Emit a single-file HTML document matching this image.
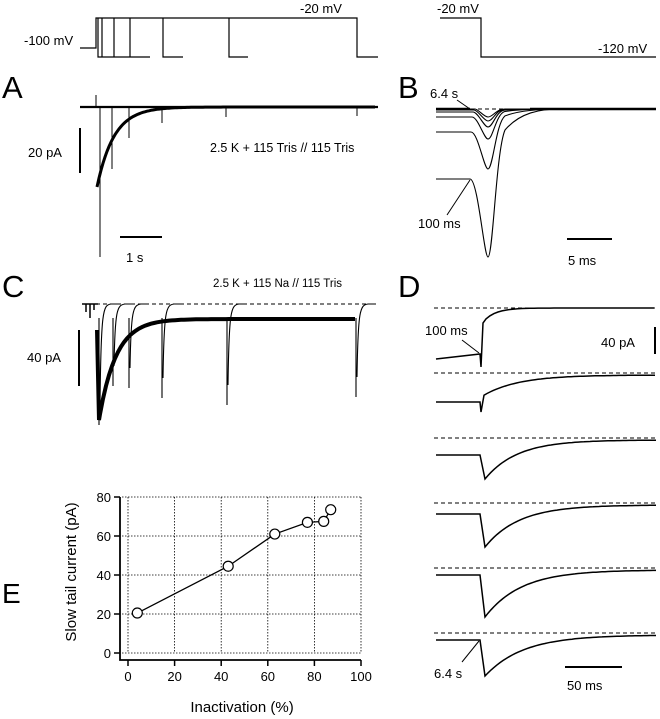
<!DOCTYPE html>
<html><head><meta charset="utf-8"><style>
html,body{margin:0;padding:0;background:#fff;}
svg{display:block;font-family:"Liberation Sans",Arial,sans-serif;}
</style></head><body>
<svg id="fig" width="660" height="719" viewBox="0 0 660 719">
<g fill="none" stroke="#000" stroke-width="1.2">
  <path d="M80 48 H96 V18 H357 V57 H378"/>
  <path d="M98 18 V57 H150 M102 18 V57 M114 18 V57 M130 18 V57 M163 18 V57 H183 M229 18 V57 H248"/>
  <path d="M440 18 H481 V57 H656"/>
</g>
<text x="24" y="45" font-size="13">-100 mV</text>
<text x="300" y="13" font-size="13">-20 mV</text>
<text x="437" y="13" font-size="13">-20 mV</text>
<text x="598" y="53" font-size="13">-120 mV</text>

<text x="2" y="98" font-size="31">A</text>
<text x="398" y="98" font-size="31">B</text>
<text x="2" y="297" font-size="31">C</text>
<text x="398" y="297" font-size="31">D</text>
<text x="2" y="603" font-size="28">E</text>

<!-- Panel A -->
<g fill="none" stroke="#000">
  <line x1="80" y1="107" x2="378" y2="107" stroke-width="2.2"/>
  <path id="aDecay" stroke-width="3" d=""/>
  <path d="M96 95 V108 M100 107 V257 M112 107 V169 M129 107 V138 M162 107 V123 M226 107 V117 M357 107 V116" stroke-width="1"/>
</g>
<line x1="80" y1="128" x2="80" y2="173" stroke="#000" stroke-width="2"/>
<text x="28" y="157" font-size="13">20 pA</text>
<line x1="120" y1="237" x2="162" y2="237" stroke="#000" stroke-width="2"/>
<text x="126" y="262" font-size="13">1 s</text>
<text x="210" y="152" font-size="12.5">2.5 K + 115 Tris // 115 Tris</text>

<!-- Panel B -->
<g fill="none" stroke="#000" stroke-width="1.1">
  <line x1="436" y1="109" x2="656" y2="109" stroke-dasharray="4,3"/>
  <path id="bTraces" d=""/>
  <line x1="436" y1="109" x2="470" y2="109" stroke-width="2.5"/>
  <line x1="530" y1="109" x2="656" y2="109" stroke-width="2.5"/>
</g>
<text x="430" y="98" font-size="13">6.4 s</text>
<line x1="457" y1="100" x2="470" y2="109" stroke="#000"/>
<text x="418" y="228" font-size="13">100 ms</text>
<line x1="447" y1="215" x2="470" y2="180" stroke="#000"/>
<line x1="567" y1="239" x2="612" y2="239" stroke="#000" stroke-width="2"/>
<text x="568" y="265" font-size="13">5 ms</text>

<!-- Panel C -->
<text x="213" y="287" font-size="11.5">2.5 K + 115 Na // 115 Tris</text>
<g fill="none" stroke="#000">
  <line x1="82" y1="304" x2="376" y2="304" stroke-dasharray="4,3" stroke-width="1"/>
  <path d="M82 304 H98 M86 304 V312 M90 304 V318 M94 304 V310" stroke-width="1.5"/>
  <path id="cDecay" stroke-width="4" d=""/>
  <path id="cSpikes" stroke-width="1.1" d=""/>
</g>
<line x1="79" y1="330" x2="79" y2="386" stroke="#000" stroke-width="2"/>
<text x="27" y="362" font-size="13">40 pA</text>

<!-- Panel D -->
<g id="dTraces" fill="none" stroke="#000"></g>
<text x="425" y="335" font-size="13">100 ms</text>
<line x1="462" y1="340" x2="479" y2="353" stroke="#000"/>
<text x="434" y="678" font-size="13">6.4 s</text>
<line x1="462" y1="662" x2="479" y2="641" stroke="#000"/>
<line x1="655" y1="327" x2="655" y2="354" stroke="#000" stroke-width="2"/>
<text x="601" y="347" font-size="13">40 pA</text>
<line x1="565" y1="667" x2="622" y2="667" stroke="#000" stroke-width="2"/>
<text x="567" y="690" font-size="13">50 ms</text>

<!-- Panel E -->
<g id="chartE"></g>
<text transform="translate(76,572) rotate(-90)" text-anchor="middle" font-size="15">Slow tail current (pA)</text>
<text x="242" y="712" text-anchor="middle" font-size="15">Inactivation (%)</text>
</svg>
<script>
const NS="http://www.w3.org/2000/svg";
// Panel E data
const inactivation=[4,43,63,77,84,87];
const slowTail=[20.5,44.5,61,67,67.5,73.5];
const xTicks=[0,20,40,60,80,100];
const yTicks=[0,20,40,60,80];
const X=v=>128+v*2.33;
const Y=v=>653-v*1.95;
function mk(tag,attrs,parent){const e=document.createElementNS(NS,tag);for(const k in attrs)e.setAttribute(k,attrs[k]);parent.appendChild(e);return e;}
const g=document.getElementById('chartE');
xTicks.forEach(t=>{
  const l=mk('line',{x1:X(t),x2:X(t),y1:Y(80),y2:Y(0),stroke:'#000','stroke-width':0.8,'stroke-dasharray':'1.5,1.5'},g);
  
  
  const tk=mk('line',{x1:X(t),x2:X(t),y1:660,y2:666,stroke:'#000','stroke-width':1.5},g);
  
  
  const tx=mk('text',{x:X(t),y:681,'text-anchor':'middle','font-size':13},g);tx.textContent=t;
  
  
});
yTicks.forEach(t=>{
  const l=mk('line',{x1:X(0)-6,x2:X(100),y1:Y(t),y2:Y(t),stroke:'#000','stroke-width':0.8,'stroke-dasharray':'1.5,1.5'},g);
  
  
  const tk=mk('line',{x1:114,x2:120,y1:Y(t),y2:Y(t),stroke:'#000','stroke-width':1.5},g);
  
  
  const tx=mk('text',{x:111,y:Y(t)+5,'text-anchor':'end','font-size':13},g);tx.textContent=t;
  
  
});
const ax=mk('path',{d:`M120 ${Y(80)} V660 H${X(100)}`,fill:'none',stroke:'#000','stroke-width':1.8},g);


const ln=mk('polyline',{points:inactivation.map((v,i)=>X(v)+','+Y(slowTail[i])).join(' '),fill:'none',stroke:'#000','stroke-width':1.3},g);


inactivation.forEach((v,i)=>{
  const c=mk('circle',{cx:X(v),cy:Y(slowTail[i]),r:5,fill:'#fff',stroke:'#000','stroke-width':1.2},g);
  
  
});

// Panel A decay
let d="M97 187";
for(let x=99;x<=375;x+=2){d+=` L${x} ${(107+80*Math.exp(-(x-97)/17)).toFixed(1)}`;}
document.getElementById('aDecay').setAttribute('d',d);

// Panel B traces
const bStart=[179,132,117,112,110,109];
const bDip=[257,169,139,127,121,117];
let bd="";
bStart.forEach((s,i)=>{
  const end=470+i;
  const r=s-109;
  bd+=`M436 ${s} L${end} ${s} C478 ${s} 484 ${bDip[i]} 488 ${bDip[i]} C493 ${bDip[i]} 496 ${109+r*0.6} 505 ${109+r*0.3} C520 ${109+r*0.05} 540 109 560 109 `;
});
document.getElementById('bTraces').setAttribute('d',bd);

// Panel C
let cd="M97 330 L99 420";
for(let x=100;x<=356;x+=3){cd+=` L${x} ${(319+101*Math.exp(-(x-99)/17)).toFixed(1)}`;}
document.getElementById('cDecay').setAttribute('d',cd);
const spikeX=[99,113,129,162,227,356];
const spikeY=[425,386,388,398,405,397];
let sd="";
spikeX.forEach((x,i)=>{sd+=`M${x} 318 L${x} ${spikeY[i]} M${x+1} ${spikeY[i]-20} C${x+2} 310 ${x+4} 305 ${x+12} 304 L${x+20} 304 `;});
document.getElementById('cSpikes').setAttribute('d',sd);

// Panel D
const dBase=[308,373,438,503,568,633];
const dFlat=[357,402,455,514,575,640];
const dDip=[367,412,479,547,617,676];
const dg=document.getElementById('dTraces');
dBase.forEach((b,i)=>{
  const l=mk('line',{x1:434,x2:656,y1:b,y2:b,'stroke-dasharray':'4,3','stroke-width':1},dg);
  
  
  let p;
  if(i===0){
    p=`M436 359 L480 354 L481 367 L483 323`;
    for(let x=486;x<=656;x+=4)p+=` L${x} ${(308+14*Math.exp(-(x-483)/12)).toFixed(1)}`;
  }else{
    const dx=i===1?481:485;
    p=`M436 ${dFlat[i]} L480 ${dFlat[i]} L${dx} ${dDip[i]}`;
    const start=i===1?dFlat[i]-5:dDip[i];
    const tau=i===1?35:28+i*2;
    for(let x=dx+3;x<=656;x+=3)p+=` L${x} ${(b+2+(start-b-2)*Math.exp(-(x-dx)/tau)).toFixed(1)}`;
  }
  const t=mk('path',{d:p,'stroke-width':1.5},dg);
  
  
});
</script>
</body></html>
